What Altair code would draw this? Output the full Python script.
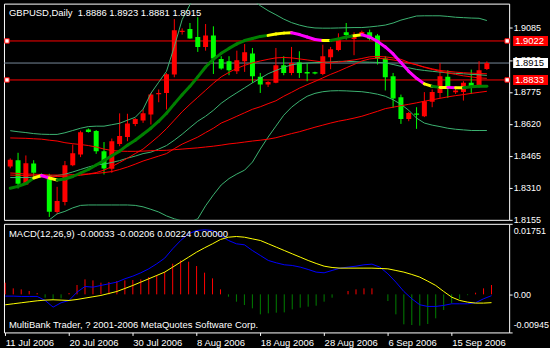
import altair as alt
import pandas as pd

# ---------------- values ----------------
date_labels = ["11 Jul 2006", "20 Jul 2006", "30 Jul 2006", "8 Aug 2006",
               "18 Aug 2006", "28 Aug 2006", "6 Sep 2006", "15 Sep 2006"]
date_bars = [0, 8, 16, 24, 32, 40, 48, 56]

price_ticks = [1.9085, 1.8930, 1.8775, 1.8620, 1.8465, 1.8310, 1.8155]
macd_ticks = [0.01751, 0.0, -0.00945]
macd_tick_labels = ["0.01751", "0.00", "-0.00945"]

red_levels = [1.9022, 1.8833]
bid_level = 1.8915

header_main = "GBPUSD,Daily \u00a01.8886 1.8923 1.8881 1.8915"
header_macd = "MACD(12,26,9) -0.00033 -0.00206 0.00224 0.00000"
footer_macd = "MultiBank Trader, ? 2001-2006 MetaQuotes Software Corp."

opens = [1.8414, 1.8444, 1.8326, 1.8428, 1.8374, 1.8372, 1.8193, 1.8241, 1.8420, 1.8472,
         1.8593, 1.8585, 1.8488, 1.8402, 1.8523, 1.8556, 1.8620, 1.8637, 1.8666, 1.8764,
         1.8770, 1.8859, 1.9066, 1.9080, 1.9041, 1.8993, 1.9049, 1.8935, 1.8924, 1.8875,
         1.8924, 1.8961, 1.8848, 1.8811, 1.8819, 1.8904, 1.8867, 1.8919, 1.8872, 1.8870,
         1.8862, 1.8943, 1.8978, 1.9064, 1.9032, 1.9053, 1.9064, 1.9049, 1.8937, 1.8851,
         1.8749, 1.8644, 1.8670, 1.8657, 1.8727, 1.8770, 1.8848, 1.8774, 1.8775, 1.8819,
         1.8807, 1.8886]
highs = [1.8453, 1.8480, 1.8467, 1.8444, 1.8380, 1.8378, 1.8315, 1.8440, 1.8520, 1.8587,
         1.8598, 1.8590, 1.8532, 1.8549, 1.8671, 1.8669, 1.8648, 1.8690, 1.8770, 1.8787,
         1.8866, 1.9128, 1.9083, 1.9109, 1.9137, 1.9104, 1.9093, 1.8948, 1.8948, 1.8975,
         1.9007, 1.8988, 1.8867, 1.8827, 1.8988, 1.8948, 1.8993, 1.8972, 1.8914, 1.8873,
         1.9004, 1.8993, 1.9059, 1.9109, 1.9064, 1.9072, 1.9077, 1.9056, 1.8948, 1.8867,
         1.8762, 1.8678, 1.8701, 1.8774, 1.8787, 1.8915, 1.8880, 1.8791, 1.8827, 1.8883,
         1.8924, 1.8923]
lows = [1.8405, 1.8307, 1.8325, 1.8362, 1.8366, 1.8169, 1.8182, 1.8225, 1.8415, 1.8459,
        1.8578, 1.8475, 1.8375, 1.8383, 1.8512, 1.8536, 1.8609, 1.8625, 1.8617, 1.8725,
        1.8690, 1.8846, 1.9053, 1.9033, 1.8969, 1.8975, 1.8862, 1.8883, 1.8856, 1.8862,
        1.8872, 1.8819, 1.8770, 1.8799, 1.8817, 1.8856, 1.8856, 1.8843, 1.8827, 1.8860,
        1.8856, 1.8885, 1.8972, 1.9029, 1.8953, 1.9050, 1.9025, 1.8908, 1.8782, 1.8698,
        1.8620, 1.8633, 1.8596, 1.8653, 1.8701, 1.8746, 1.8746, 1.8765, 1.8733, 1.8765,
        1.8801, 1.8881]
closes = [1.8446, 1.8330, 1.8429, 1.8383, 1.8371, 1.8194, 1.8246, 1.8420, 1.8478, 1.8580,
          1.8581, 1.8488, 1.8404, 1.8536, 1.8561, 1.8622, 1.8644, 1.8672, 1.8762, 1.8770,
          1.8861, 1.9074, 1.9072, 1.9034, 1.8993, 1.9049, 1.8937, 1.8888, 1.8880, 1.8928,
          1.8967, 1.8851, 1.8811, 1.8823, 1.8904, 1.8867, 1.8915, 1.8867, 1.8864, 1.8864,
          1.8948, 1.8982, 1.9025, 1.9051, 1.9054, 1.9065, 1.9032, 1.8937, 1.8846, 1.8743,
          1.8644, 1.8673, 1.8664, 1.8730, 1.8775, 1.8851, 1.8799, 1.8782, 1.8819, 1.8799,
          1.8880, 1.8915]

# thick coloured moving average and the colour of the segment ending at each bar
ma_thick = [1.8308, 1.8317, 1.8331, 1.8358, 1.8370, 1.8358, 1.8348, 1.8353, 1.8365, 1.8382,
            1.8399, 1.8421, 1.8442, 1.8466, 1.8488, 1.8517, 1.8541, 1.8570, 1.8599, 1.8633,
            1.8672, 1.8717, 1.8761, 1.8802, 1.8848, 1.8896, 1.8933, 1.8962, 1.8986, 1.9008,
            1.9024, 1.9034, 1.9044, 1.9049, 1.9056, 1.9060, 1.9062, 1.9053, 1.9041, 1.9029,
            1.9024, 1.9024, 1.9032, 1.9041, 1.9047, 1.9052, 1.9041, 1.9020, 1.8993, 1.8959,
            1.8918, 1.8875, 1.8841, 1.8814, 1.8802, 1.8797, 1.8797, 1.8795, 1.8795, 1.8800,
            1.8802, 1.8802]
ma_thick_state = ["g", "g", "g", "g", "y", "m", "y", "g", "g", "g",
                  "g", "g", "g", "g", "g", "g", "g", "g", "g", "g",
                  "g", "g", "g", "g", "g", "g", "g", "g", "g", "g",
                  "g", "g", "g", "g", "y", "y", "y", "m", "m", "m",
                  "m", "y", "g", "g", "g", "y", "m", "m", "m", "m",
                  "m", "m", "m", "m", "y", "g", "y", "m", "y", "g",
                  "g", "g"]

bb_upper = [1.8587, 1.8582, 1.8578, 1.8573, 1.8570, 1.8569, 1.8569, 1.8577, 1.8588, 1.8599,
            1.8607, 1.8609, 1.8609, 1.8616, 1.8623, 1.8638, 1.8652, 1.8691, 1.8768, 1.8822,
            1.8875, 1.8995, 1.9126, 1.9198, 1.9251, 1.9285, 1.9309, 1.9319, 1.9319, 1.9300,
            1.9261, 1.9222, 1.9193, 1.9169, 1.9149, 1.9128, 1.9111, 1.9099, 1.9090, 1.9085,
            1.9084, 1.9084, 1.9085, 1.9086, 1.9087, 1.9087, 1.9090, 1.9094, 1.9099, 1.9109,
            1.9123, 1.9133, 1.9143, 1.9144, 1.9144, 1.9144, 1.9141, 1.9137, 1.9135, 1.9133,
            1.9132, 1.9121]
bb_middle = [1.8360, 1.8360, 1.8360, 1.8361, 1.8363, 1.8365, 1.8370, 1.8376, 1.8387, 1.8399,
             1.8411, 1.8421, 1.8425, 1.8433, 1.8442, 1.8454, 1.8464, 1.8476, 1.8483, 1.8498,
             1.8515, 1.8541, 1.8570, 1.8602, 1.8633, 1.8657, 1.8686, 1.8720, 1.8747, 1.8771,
             1.8795, 1.8819, 1.8841, 1.8863, 1.8879, 1.8894, 1.8906, 1.8912, 1.8915, 1.8917,
             1.8918, 1.8920, 1.8923, 1.8923, 1.8922, 1.8920, 1.8919, 1.8918, 1.8916, 1.8908,
             1.8899, 1.8892, 1.8884, 1.8879, 1.8875, 1.8871, 1.8867, 1.8865, 1.8863, 1.8860,
             1.8858, 1.8855]
bb_lower = [1.8126, 1.8121, 1.8116, 1.8121, 1.8131, 1.8155, 1.8184, 1.8196, 1.8213, 1.8225,
            1.8227, 1.8227, 1.8227, 1.8227, 1.8227, 1.8227, 1.8225, 1.8218, 1.8206, 1.8193,
            1.8174, 1.8160, 1.8150, 1.8145, 1.8160, 1.8223, 1.8276, 1.8324, 1.8355, 1.8377,
            1.8396, 1.8435, 1.8498, 1.8556, 1.8609, 1.8662, 1.8701, 1.8730, 1.8754, 1.8768,
            1.8776, 1.8780, 1.8781, 1.8780, 1.8778, 1.8776, 1.8771, 1.8764, 1.8754, 1.8737,
            1.8715, 1.8686, 1.8648, 1.8624, 1.8614, 1.8607, 1.8599, 1.8594, 1.8591, 1.8588,
            1.8588, 1.8588]

ma_slow = [1.8552, 1.8551, 1.8550, 1.8548, 1.8546, 1.8541, 1.8537, 1.8529, 1.8524, 1.8520,
           1.8515, 1.8508, 1.8498, 1.8491, 1.8488, 1.8487, 1.8487, 1.8488, 1.8490, 1.8491,
           1.8492, 1.8495, 1.8498, 1.8501, 1.8504, 1.8508, 1.8512, 1.8517, 1.8523, 1.8527,
           1.8532, 1.8537, 1.8541, 1.8546, 1.8553, 1.8563, 1.8573, 1.8582, 1.8593, 1.8604,
           1.8614, 1.8624, 1.8633, 1.8640, 1.8648, 1.8657, 1.8669, 1.8681, 1.8694, 1.8701,
           1.8708, 1.8715, 1.8722, 1.8730, 1.8737, 1.8744, 1.8751, 1.8757, 1.8762, 1.8768,
           1.8773, 1.8778]
ma_medium = [1.8382, 1.8380, 1.8377, 1.8376, 1.8375, 1.8372, 1.8372, 1.8372, 1.8374, 1.8376,
             1.8377, 1.8380, 1.8384, 1.8389, 1.8399, 1.8411, 1.8425, 1.8440, 1.8452, 1.8464,
             1.8476, 1.8500, 1.8522, 1.8539, 1.8556, 1.8578, 1.8599, 1.8624, 1.8640, 1.8657,
             1.8674, 1.8691, 1.8703, 1.8718, 1.8732, 1.8754, 1.8773, 1.8793, 1.8810, 1.8826,
             1.8843, 1.8860, 1.8875, 1.8892, 1.8908, 1.8925, 1.8935, 1.8939, 1.8935, 1.8930,
             1.8923, 1.8915, 1.8907, 1.8894, 1.8884, 1.8875, 1.8867, 1.8860, 1.8853, 1.8848,
             1.8843, 1.8841]
ma_fast = [1.8372, 1.8371, 1.8370, 1.8368, 1.8367, 1.8366, 1.8365, 1.8366, 1.8367, 1.8371,
           1.8377, 1.8384, 1.8396, 1.8413, 1.8433, 1.8454, 1.8476, 1.8498, 1.8529, 1.8561,
           1.8597, 1.8638, 1.8679, 1.8715, 1.8749, 1.8783, 1.8817, 1.8848, 1.8870, 1.8889,
           1.8904, 1.8916, 1.8925, 1.8933, 1.8940, 1.8942, 1.8940, 1.8935, 1.8930, 1.8925,
           1.8920, 1.8918, 1.8920, 1.8925, 1.8930, 1.8937, 1.8945, 1.8947, 1.8945, 1.8940,
           1.8933, 1.8918, 1.8906, 1.8896, 1.8887, 1.8879, 1.8875, 1.8871, 1.8868, 1.8866,
           1.8864, 1.8863]

macd_hist = [0.00289, 0.00149, 0.00124, 0.00083, 0.00033, -0.00083, -0.00141, -0.00099, 0.00033, 0.00232,
             0.00372, 0.00347, 0.00289, 0.00306, 0.00331, 0.00347, 0.00356, 0.00372, 0.0043, 0.0048,
             0.00554, 0.00761, 0.00844, 0.0081, 0.00703, 0.00538, 0.00397, 0.00124, -0.00058, -0.00182,
             -0.00265, -0.00347, -0.00496, -0.00471, -0.00455, -0.00447, -0.00372, -0.00331, -0.00306, -0.00281,
             -0.00182, -0.00083, 0.0, 0.00083, 0.00124, 0.00149, 0.00149, 0.0, -0.00165, -0.00496,
             -0.00744, -0.00761, -0.00777, -0.00736, -0.00595, -0.00389, -0.00223, -0.00116, -0.0002, 0.00041,
             0.00149, 0.00232]
macd_main = [-0.00044, -0.00044, -0.00052, -0.00052, -0.00052, -0.00151, -0.00317, -0.00209, -0.00151, 0.00055,
             0.00196, 0.00179, 0.00221, 0.00262, 0.00304, 0.00386, 0.00452, 0.00535, 0.00634, 0.00758,
             0.00899, 0.01131, 0.01337, 0.01503, 0.01585, 0.01602, 0.01585, 0.01461, 0.01337, 0.01255,
             0.0123, 0.01089, 0.00965, 0.00841, 0.00783, 0.00734, 0.00717, 0.00676, 0.00618, 0.00552,
             0.00535, 0.00593, 0.00651, 0.00676, 0.007, 0.00734, 0.0075, 0.00676, 0.0051, 0.00304,
             0.00072, -0.0011, -0.00259, -0.003, -0.003, -0.00275, -0.00234, -0.00234, -0.00234, -0.00209,
             -0.0011, -0.00033]
macd_signal = [-0.00259, -0.00234, -0.00209, -0.00184, -0.0016, -0.00143, -0.00135, -0.00143, -0.00151, -0.00127,
               -0.00093, -0.0006, -0.00027, 0.00022, 0.00072, 0.00146, 0.00221, 0.00304, 0.00386, 0.00469,
               0.00552, 0.00676, 0.008, 0.00924, 0.01048, 0.01155, 0.01255, 0.01362, 0.01419, 0.01436,
               0.01419, 0.01378, 0.01337, 0.01255, 0.01172, 0.01089, 0.01006, 0.00924, 0.00841, 0.00767,
               0.007, 0.00667, 0.00651, 0.00651, 0.00651, 0.00651, 0.00651, 0.00643, 0.00634, 0.00593,
               0.00552, 0.00494, 0.00428, 0.00328, 0.00221, 0.00072, -0.00069, -0.00151, -0.00193, -0.00217,
               -0.00217, -0.00206]

# ---------------- tables built from the arrays ----------------
n = len(opens)
bars = pd.DataFrame({"k": list(range(n)), "o": opens, "h": highs, "l": lows, "c": closes})
bars["dir"] = ["up" if c > o else "down" for o, c in zip(opens, closes)]

line_sets = [("bb_upper", bb_upper), ("bb_middle", bb_middle), ("bb_lower", bb_lower),
             ("ma_slow", ma_slow), ("ma_medium", ma_medium), ("ma_fast", ma_fast)]
lines = pd.DataFrame([{"k": i, "p": v, "s": name}
                      for name, vals in line_sets for i, v in enumerate(vals)])

segs = pd.DataFrame([{"k0": j - 1, "k1": j, "p0": ma_thick[j - 1], "p1": ma_thick[j],
                      "st": ma_thick_state[j]} for j in range(1, n)])

levels = pd.DataFrame({"p": red_levels})
bid = pd.DataFrame({"p": [bid_level]})
boxes = pd.DataFrame({
    "p": red_levels + [bid_level],
    "lab": ["%.4f" % v for v in red_levels] + ["%.4f" % bid_level],
    "bg": ["#FF0000", "#FF0000", "#FFFFFF"],
    "tc": ["#FFFFFF", "#FFFFFF", "#000000"],
})

macd = pd.DataFrame({"k": list(range(n)), "hist": macd_hist})
macd["hs"] = ["pos" if v >= 0 else "neg" for v in macd_hist]
macd_lines = pd.DataFrame([{"k": i, "v": v, "s": name}
                           for name, vals in [("main", macd_main), ("signal", macd_signal)]
                           for i, v in enumerate(vals)])

# ---------------- scales / axes ----------------
FONT = "Liberation Sans"
xs = alt.Scale(domain=[-0.1625, 63.2125], nice=False, zero=False)
ys = alt.Scale(domain=[1.8155, 1.9203], nice=False, zero=False)
ms = alt.Scale(domain=[-0.00945, 0.01751], nice=False, zero=False)

yax = alt.Axis(orient="right", values=price_ticks, format=".4f", tickSize=3, labelPadding=1,
               labelFontSize=9, labelFont=FONT, labelColor="white", tickColor="white",
               domain=False, grid=False, title=None, labelOverlap=False)

macd_expr = "[" + ",".join("'%s'" % s for s in macd_tick_labels) + "][indexof([" + \
    ",".join(repr(v) for v in macd_ticks) + "], datum.value)]"
max_ = alt.Axis(orient="right", values=macd_ticks, labelExpr=macd_expr, tickSize=3, labelPadding=1,
                labelFontSize=9, labelFont=FONT, labelColor="white", tickColor="white",
                domain=False, grid=False, title=None, labelFlush=True, labelFlushOffset=-3,
                labelOverlap=False)

date_expr = "[" + ",".join("'%s'" % s for s in date_labels) + "][indexof([" + \
    ",".join(str(b) for b in date_bars) + "], datum.value)]"
xax = alt.Axis(orient="bottom", values=date_bars, labelExpr=date_expr, tickSize=3, labelPadding=2,
               labelFontSize=9.5, labelFont=FONT, labelColor="white", tickColor="white",
               labelAlign="left", domain=False, grid=False, title=None, labelFlush=False,
               labelOverlap=False)

Xm = alt.X("k:Q", scale=xs, axis=None)
candle_col = alt.Color("dir:N", scale=alt.Scale(domain=["up", "down"], range=["#FF0000", "#00FF00"]),
                       legend=None)

# ---------------- main price panel ----------------
gray_rule = alt.Chart(bid).mark_rule(color="#778899", strokeWidth=1).encode(
    y=alt.Y("p:Q", scale=ys, axis=yax))
red_rules = alt.Chart(levels).mark_rule(color="#FF0000", strokeWidth=1).encode(
    y=alt.Y("p:Q", scale=ys, axis=yax))

wicks = alt.Chart(bars).mark_rule(strokeWidth=1, clip=True).encode(
    x=Xm, y=alt.Y("l:Q", scale=ys, axis=yax), y2="h:Q", color=candle_col)
bodies = alt.Chart(bars).mark_bar(size=5, clip=True).encode(
    x=Xm, y=alt.Y("o:Q", scale=ys, axis=yax), y2="c:Q", color=candle_col)

ind = alt.Chart(lines).mark_line(strokeWidth=1, clip=True).encode(
    x=Xm, y=alt.Y("p:Q", scale=ys, axis=yax),
    color=alt.Color("s:N", scale=alt.Scale(
        domain=["bb_upper", "bb_middle", "bb_lower", "ma_slow", "ma_medium", "ma_fast"],
        range=["#3CB371", "#3CB371", "#3CB371", "#FF0000", "#FF0000", "#FF0000"]), legend=None),
    detail="s:N")

thick = alt.Chart(segs).mark_rule(strokeWidth=3, strokeCap="round", clip=True).encode(
    x=alt.X("k0:Q", scale=xs, axis=None), x2="k1:Q",
    y=alt.Y("p0:Q", scale=ys, axis=yax), y2="p1:Q",
    color=alt.Color("st:N", scale=alt.Scale(domain=["g", "y", "m"],
                                            range=["#008000", "#FFFF00", "#FF00FF"]), legend=None))

mark_left = alt.Chart(levels).mark_point(shape="square", size=20, fill="white", stroke="#FF0000",
                                         strokeWidth=1, opacity=1, fillOpacity=1).encode(
    x=alt.value(3), y=alt.Y("p:Q", scale=ys, axis=yax))
mark_right = alt.Chart(levels).mark_point(shape="square", size=20, fill="white", stroke="#FF0000",
                                          strokeWidth=1, opacity=1, fillOpacity=1).encode(
    x=alt.value(505), y=alt.Y("p:Q", scale=ys, axis=yax))

box_rect = alt.Chart(boxes).mark_rect(yOffset=-5, y2Offset=5, clip=False).encode(
    x=alt.value(511), x2=alt.value(546), y=alt.Y("p:Q", scale=ys, axis=yax), y2="p:Q",
    fill=alt.Fill("bg:N", scale=None))
box_text = alt.Chart(boxes).mark_text(align="left", baseline="middle", font=FONT, fontSize=9.5,
                                      clip=False).encode(
    x=alt.value(513), y=alt.Y("p:Q", scale=ys, axis=yax), text="lab:N",
    color=alt.Color("tc:N", scale=None))

title_main = alt.Chart(pd.DataFrame({"t": [header_main]})).mark_text(
    align="left", baseline="middle", font=FONT, fontSize=9.5, color="white").encode(
    x=alt.value(5), y=alt.value(9), text="t:N")

main = alt.layer(gray_rule, red_rules, wicks, bodies, ind, thick, mark_left, mark_right,
                 box_rect, box_text, title_main).resolve_scale(
    color="independent", fill="independent").properties(width=507, height=217)

# ---------------- MACD panel ----------------
Xb = alt.X("k:Q", scale=xs, axis=xax)
hist = alt.Chart(macd).mark_rule(strokeWidth=1, clip=True).encode(
    x=Xb, y=alt.Y("hist:Q", scale=ms, axis=max_), y2=alt.datum(0.0),
    color=alt.Color("hs:N", scale=alt.Scale(domain=["pos", "neg"], range=["#FF0000", "#008000"]),
                    legend=None))
mlines = alt.Chart(macd_lines).mark_line(strokeWidth=1, clip=True).encode(
    x=Xb, y=alt.Y("v:Q", scale=ms, axis=max_),
    color=alt.Color("s:N", scale=alt.Scale(domain=["main", "signal"], range=["#0000FF", "#FFFF00"]),
                    legend=None))
mtitle = alt.Chart(pd.DataFrame({"t": [header_macd]})).mark_text(
    align="left", baseline="middle", font=FONT, fontSize=9.5, color="white").encode(
    x=alt.value(5), y=alt.value(10.5), text="t:N")
mfoot = alt.Chart(pd.DataFrame({"t": [footer_macd]})).mark_text(
    align="left", baseline="middle", font=FONT, fontSize=9.5, color="white").encode(
    x=alt.value(5), y=alt.value(101.5), text="t:N")

macd_panel = alt.layer(hist, mlines, mtitle, mfoot).resolve_scale(
    color="independent").properties(width=507, height=109)

chart = alt.vconcat(main, macd_panel, spacing=4, bounds="flush").properties(
    padding={"left": 2, "top": 2, "right": 0, "bottom": 0},
    background="black",
).configure_view(stroke="white", strokeWidth=1).configure_axis(
    labelFont=FONT, labelColor="white", tickColor="white")

chart.save("out.html", embed_options={"renderer": "svg", "actions": False})
